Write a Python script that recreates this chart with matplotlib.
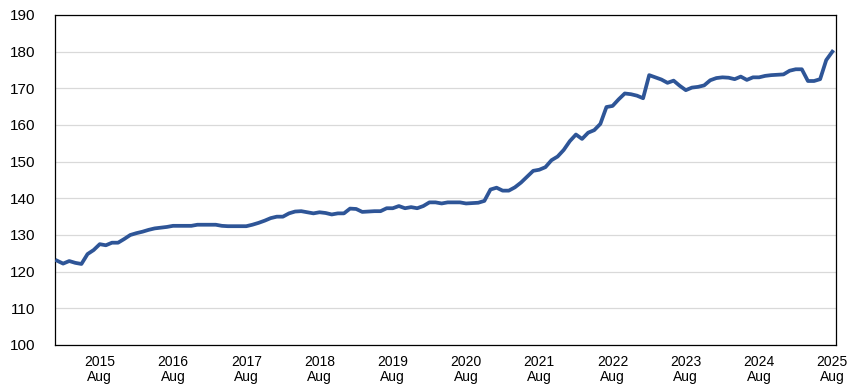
import pandas as pd
import matplotlib
matplotlib.use("Agg")
import matplotlib.pyplot as plt

plt.rcParams['font.family'] = ['Liberation Sans', 'DejaVu Sans']

# Monthly index values, Jan 2015 - Aug 2025
values = [
    123.0, 122.2, 122.9, 122.4, 122.1, 124.8, 125.9, 127.5, 127.2, 127.9,
    127.9, 128.9, 130.0, 130.5, 130.9, 131.4, 131.8, 132.0, 132.2, 132.5,
    132.5, 132.5, 132.5, 132.8, 132.8, 132.8, 132.8, 132.5, 132.4, 132.4,
    132.4, 132.4, 132.8, 133.3, 133.9, 134.6, 135.0, 135.0, 135.9, 136.4,
    136.5, 136.2, 135.9, 136.2, 136.0, 135.6, 135.9, 135.9, 137.2, 137.1,
    136.3, 136.4, 136.5, 136.5, 137.3, 137.3, 137.9, 137.3, 137.6, 137.3,
    137.9, 138.9, 138.9, 138.6, 138.9, 138.9, 138.9, 138.6, 138.7, 138.8,
    139.3, 142.4, 142.9, 142.1, 142.1, 143.0, 144.3, 145.9, 147.5, 147.8,
    148.5, 150.4, 151.4, 153.2, 155.6, 157.4, 156.2, 157.9, 158.6, 160.3,
    164.9, 165.2, 167.0, 168.6, 168.4, 168.0, 167.3, 173.6, 173.0, 172.4,
    171.5, 172.1, 170.7, 169.5, 170.2, 170.4, 170.8, 172.2, 172.8, 173.0,
    172.9, 172.5, 173.2, 172.3, 173.0, 173.0, 173.4, 173.6, 173.7, 173.8,
    174.8, 175.2, 175.2, 172.0, 172.0, 172.5, 177.7, 180.0,
]
dates = pd.date_range("2015-01-01", periods=len(values), freq="MS")

tick_idx = [i for i, d in enumerate(dates) if d.month == 8]
tick_labels = [f"{dates[i].year}\nAug" for i in tick_idx]
y_ticks = list(range(100, 191, 10))

fig = plt.figure(figsize=(8.49, 3.88), dpi=100)
ax = fig.add_axes([55 / 849, 1 - 345 / 388, (836 - 55) / 849, (345 - 15) / 388])

ax.plot(range(len(values)), values, color='#2E5597', linewidth=2.7,
        solid_joinstyle='round', zorder=3)

ax.set_xlim(-0.33, 127.6)
ax.set_ylim(100, 190)
ax.set_yticks(y_ticks)
ax.set_xticks(tick_idx)
ax.set_xticklabels(tick_labels, fontsize=10, linespacing=1.15)
ax.tick_params(axis='y', labelsize=11, length=0, pad=14)
ax.tick_params(axis='x', length=0, pad=7)

ax.grid(axis='y', color='#D9D9D9', linewidth=0.9, zorder=0)
for s in ax.spines.values():
    s.set_color('black')
    s.set_linewidth(0.9)

fig.savefig("out.png", dpi=100)
